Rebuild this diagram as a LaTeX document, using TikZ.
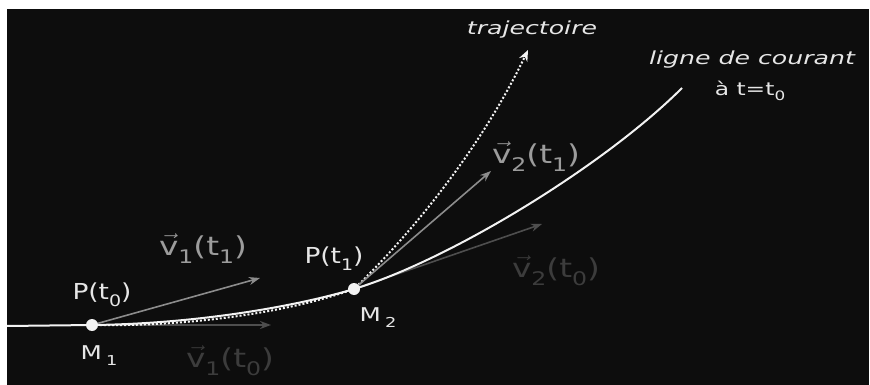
\documentclass[tikz,border=0pt]{standalone}
\usepackage{fontspec}
\usepackage{graphicx}
\setmainfont{DejaVu Sans}
\usetikzlibrary{arrows.meta}
\definecolor{bgc}{HTML}{0D0D0D}
\definecolor{linec}{HTML}{F2F2F2}
\definecolor{midarrow}{HTML}{8C8C8C}
\definecolor{midtext}{HTML}{9C9C9C}
\definecolor{darkarrow}{HTML}{4E4E4E}
\definecolor{darktext}{HTML}{3C3C3C}
\definecolor{wtext}{HTML}{E6E6E6}
\newcommand\sbx[1]{\raisebox{-0.32em}{\scalebox{0.72}{#1}}}
\newcommand\vecv{\ensuremath{\vec{\mbox{v}}}}
\pgfdeclarelayer{back}
\pgfdeclarelayer{under}
\pgfsetlayers{back,under,main}
\tikzset{
  dotnode/.style={circle, fill=linec, draw=none, minimum size=12pt, inner sep=0pt},
  stream/.style={draw=linec, line width=2pt},
  traj/.style={draw=linec, line width=2pt, dotted, -{Stealth[length=11pt,width=9pt]}},
  midvec/.style={draw=midarrow, line width=1.6pt, -{Stealth[length=11pt,width=8pt]}},
  darkvec/.style={draw=darkarrow, line width=1.6pt, -{Stealth[length=11pt,width=8pt]}},
  ptlabel/.style={text=wtext, inner sep=0pt, xscale=1.2, font=\fontsize{22}{24}\selectfont},
  mlabel/.style={text=wtext, inner sep=0pt, xscale=1.3, font=\fontsize{19}{21}\selectfont},
  midlabel/.style={text=midtext, inner sep=0pt, xscale=1.26, font=\fontsize{26}{28}\selectfont},
  darklabel/.style={text=darktext, inner sep=0pt, xscale=1.26, font=\fontsize{26}{28}\selectfont},
  notelabel/.style={text=wtext, inner sep=0pt, xscale=1.4, font=\fontsize{18}{20}\selectfont\itshape},
  noteup/.style={text=wtext, inner sep=0pt, xscale=1.3, font=\fontsize{18}{20}\selectfont},
}
\begin{document}
\begin{tikzpicture}[x=1pt,y=-1pt]
\useasboundingbox (0,0) rectangle (870,385);
\begin{pgfonlayer}{back}
  \fill[white] (0,0) rectangle (870,385);
  \fill[bgc] (7,9) rectangle (869,385);
\end{pgfonlayer}

% points
\node[dotnode] (M1) at (92,325) {};
\node[dotnode] (M2) at (354,289) {};
\coordinate (L) at (7,326);
\coordinate (S) at (682,88);
\coordinate (T) at (528,50);
\coordinate (a11) at (260,278);
\coordinate (a10) at (271,325);
\coordinate (a21) at (491,171);
\coordinate (a20) at (542,224);

\begin{pgfonlayer}{under}
  \draw[darkvec] (M1.center) -- (a10);
  \draw[darkvec] (M2.center) -- (a20);
  \draw[stream] (L) -- (M1.center);
  \draw[stream] (M1.center) .. controls (190,324) and (290,308) .. (M2.center)
                .. controls (450,260) and (605,165) .. (S);
  \draw[traj] (M1.center) .. controls (190,327) and (290,312) .. (M2.center)
                .. controls (410,235) and (480,150) .. (T);
  \draw[midvec] (M1.center) -- (a11);
  \draw[midvec] (M2.center) -- (a21);
\end{pgfonlayer}

% labels
\node[ptlabel] (P0) at (102,295) {P(t\sbx{0})};
\node[mlabel] (M1l) at (99,356) {M\,\sbx{1}};
\node[ptlabel] (P1) at (334,259) {P(t\sbx{1})};
\node[mlabel] (M2l) at (378,318) {M\,\sbx{2}};
\node[midlabel] (v11) at (203,249) {\vecv\sbx{1}(t\sbx{1})};
\node[darklabel] (v10) at (230,361) {\vecv\sbx{1}(t\sbx{0})};
\node[midlabel] (v21) at (536,157) {\vecv\sbx{2}(t\sbx{1})};
\node[darklabel] (v20) at (556,271) {\vecv\sbx{2}(t\sbx{0})};
\node[notelabel] (tr) at (532,30) {trajectoire};
\node[notelabel] (lc) at (752,60) {ligne de courant};
\node[noteup] (at) at (750,91) {à t=t\sbx{0}};
\end{tikzpicture}
\end{document}
